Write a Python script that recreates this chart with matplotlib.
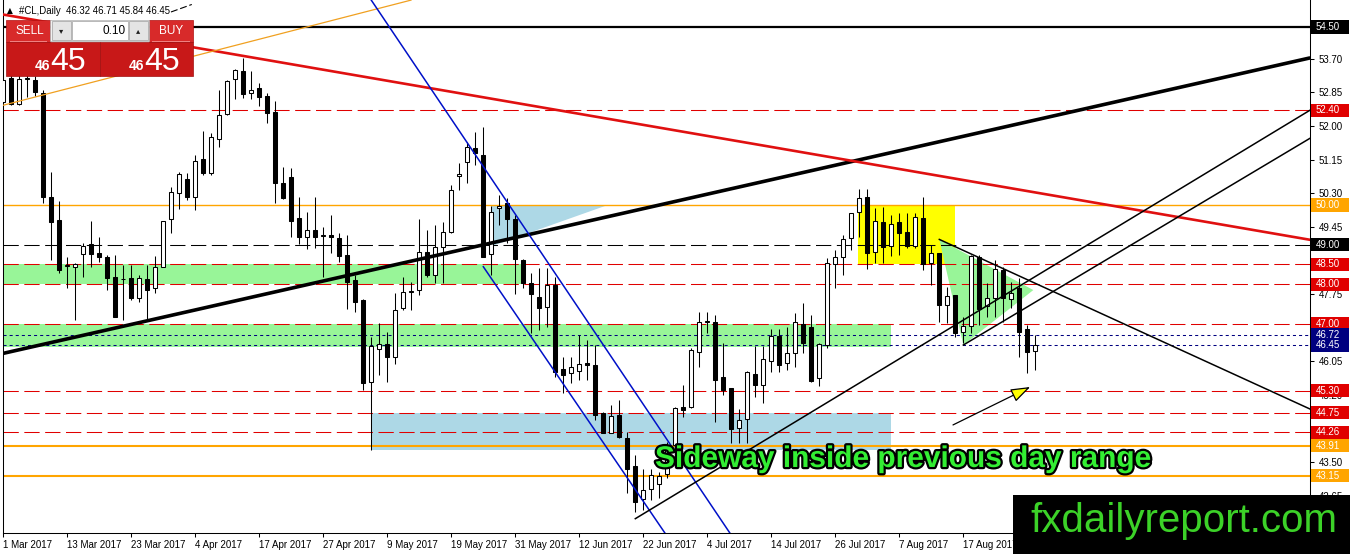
import matplotlib
matplotlib.use("Agg")
import matplotlib.pyplot as plt
from matplotlib.patches import Rectangle, Polygon, FancyArrowPatch, ArrowStyle
from matplotlib.transforms import blended_transform_factory
import matplotlib.patheffects as pe

plt.rcParams['font.family'] = ['Liberation Sans', 'DejaVu Sans']
plt.rcParams['lines.scale_dashes'] = False

# ---------------- data (daily bars, index 0 = 1 Mar 2017) ----------------
opens = [52.60, 53.21, 52.55, 53.18, 53.16, 52.83, 50.21, 49.62, 48.46, 48.44,
         48.75, 49.01, 48.79, 48.69, 48.17, 48.12, 48.15, 47.66, 48.12, 47.89,
         48.44, 49.64, 50.30, 50.67, 50.21, 51.16, 50.80, 51.66, 52.30, 53.19,
         53.40, 52.82, 52.95, 52.76, 52.36, 50.56, 50.72, 49.68, 49.20, 49.37,
         49.21, 49.24, 49.16, 48.74, 48.10, 47.60, 45.53, 46.35, 46.48, 46.17,
         47.39, 47.80, 47.85, 48.82, 48.23, 48.95, 49.33, 50.73, 51.10, 51.43,
         51.26, 48.76, 49.92, 50.04, 49.64, 48.61, 48.04, 47.68, 47.43, 47.98,
         45.85, 45.75, 45.81, 46.01, 45.95, 44.73, 44.24, 44.69, 44.10, 43.40,
         42.56, 42.81, 42.95, 43.20, 43.93, 44.90, 44.89, 46.29, 47.04, 47.05,
         45.65, 45.37, 44.36, 44.58, 45.73, 45.45, 46.06, 46.70, 46.00, 46.25,
         46.99, 46.92, 45.62, 46.46, 48.51, 48.69, 49.16, 49.83, 50.20, 48.82,
         49.58, 48.96, 49.58, 49.33, 48.96, 49.66, 48.53, 48.78, 47.47, 47.72,
         46.80, 46.94, 48.68, 47.45, 47.64, 48.36, 47.62, 47.89, 46.86, 46.32]
highs = [53.30, 53.40, 53.40, 53.30, 53.25, 52.91, 50.83, 50.10, 48.69, 48.53,
         49.05, 49.60, 49.20, 48.74, 48.74, 48.48, 48.48, 48.23, 48.48, 48.71,
         49.60, 50.46, 50.84, 50.80, 51.26, 51.87, 51.83, 52.92, 53.16, 53.44,
         53.71, 53.40, 53.08, 52.82, 52.63, 50.97, 50.93, 50.21, 49.83, 50.21,
         49.44, 49.75, 49.30, 49.24, 48.23, 47.62, 46.66, 47.01, 46.80, 47.77,
         48.19, 48.06, 49.64, 49.37, 49.49, 49.58, 50.51, 51.05, 51.60, 51.85,
         51.98, 49.97, 50.25, 50.17, 49.75, 48.63, 48.27, 48.40, 48.40, 48.19,
         46.17, 46.17, 46.71, 46.59, 46.46, 44.77, 44.94, 45.07, 44.27, 43.68,
         43.32, 43.32, 43.26, 44.00, 44.89, 45.45, 46.38, 47.30, 47.30, 47.22,
         46.50, 45.38, 44.84, 45.80, 46.43, 46.43, 46.86, 46.86, 46.92, 47.26,
         47.53, 47.22, 46.52, 48.65, 48.86, 49.24, 49.81, 50.40, 50.40, 49.92,
         49.94, 49.75, 49.79, 49.79, 49.79, 50.19, 48.99, 48.79, 47.93, 47.72,
         47.18, 48.74, 48.74, 48.02, 48.61, 48.43, 48.06, 48.15, 46.97, 46.71]
lows = [52.50, 52.53, 52.54, 52.73, 52.76, 50.04, 48.61, 48.29, 47.91, 47.09,
        48.17, 48.44, 48.57, 47.85, 47.16, 47.09, 47.60, 47.56, 47.09, 47.78,
        48.43, 49.28, 49.89, 50.13, 49.87, 50.76, 50.76, 51.47, 52.28, 52.69,
        52.70, 52.68, 52.51, 52.08, 50.06, 50.15, 49.20, 49.01, 48.88, 48.91,
        48.19, 48.78, 48.57, 47.36, 47.30, 45.32, 43.81, 45.70, 45.53, 45.99,
        47.35, 47.35, 47.73, 48.19, 48.02, 48.02, 49.28, 50.38, 50.55, 51.01,
        48.68, 48.23, 49.50, 49.03, 47.74, 47.89, 46.76, 46.84, 46.92, 45.66,
        45.24, 45.49, 45.58, 45.58, 44.57, 44.24, 44.23, 44.12, 42.71, 42.25,
        42.29, 42.54, 42.59, 43.10, 43.83, 44.65, 44.87, 45.91, 46.76, 44.52,
        45.20, 43.98, 43.98, 43.98, 45.15, 44.99, 45.79, 45.79, 45.83, 45.91,
        46.27, 45.53, 45.42, 46.38, 47.89, 48.23, 48.86, 49.20, 48.37, 48.54,
        48.54, 48.71, 48.74, 48.91, 48.91, 48.36, 47.98, 47.05, 47.01, 46.67,
        46.50, 46.76, 46.97, 47.18, 47.18, 47.05, 47.39, 46.15, 45.76, 45.84]
closes = [53.15, 52.55, 53.19, 53.20, 52.86, 50.20, 49.58, 48.36, 48.48, 48.51,
          48.96, 48.75, 48.69, 48.16, 47.18, 48.14, 47.66, 48.15, 47.85, 48.44,
          49.59, 50.32, 50.78, 50.21, 51.11, 50.80, 51.71, 52.28, 53.13, 53.41,
          52.80, 52.91, 52.72, 52.33, 50.56, 50.17, 49.60, 49.20, 49.37, 49.20,
          49.23, 49.18, 48.71, 48.06, 47.56, 45.49, 46.44, 46.48, 46.17, 47.35,
          47.81, 47.82, 48.82, 48.23, 48.95, 49.33, 50.38, 50.78, 51.47, 51.31,
          48.69, 49.83, 49.97, 49.64, 48.63, 48.02, 47.75, 47.39, 47.98, 45.79,
          45.70, 45.91, 45.97, 45.95, 44.69, 44.24, 44.67, 44.13, 43.32, 42.50,
          42.80, 43.17, 43.15, 43.90, 44.86, 44.83, 46.33, 47.05, 47.06, 45.58,
          45.33, 44.33, 44.57, 45.79, 45.45, 46.10, 46.70, 45.95, 46.27, 47.05,
          46.50, 45.56, 46.49, 48.54, 48.69, 49.13, 49.79, 50.17, 48.78, 49.60,
          48.95, 49.52, 49.30, 48.96, 49.69, 48.51, 48.78, 47.47, 47.70, 46.77,
          46.94, 48.71, 47.36, 47.64, 48.37, 47.64, 47.78, 46.80, 46.29, 46.45]

date_ticks = [0, 8, 16, 24, 32, 40, 48, 56, 64, 72, 80, 88, 96, 104, 112, 120, 128]
date_labels = ["1 Mar 2017", "13 Mar 2017", "23 Mar 2017", "4 Apr 2017", "17 Apr 2017",
               "27 Apr 2017", "9 May 2017", "19 May 2017", "31 May 2017", "12 Jun 2017",
               "22 Jun 2017", "4 Jul 2017", "14 Jul 2017", "26 Jul 2017", "7 Aug 2017",
               "17 Aug 2017", "29 Aug 2017"]
price_ticks = [42.65, 43.50, 44.35, 45.20, 46.05, 46.90, 47.75, 48.60, 49.45,
               50.30, 51.15, 52.00, 52.85, 53.70, 54.55]
# tick labels that sit fully under a level box in the original
price_tick_labels = ["42.65", "43.50", "", "45.20", "46.05", "", "47.75", "", "49.45",
                     "50.30", "51.15", "52.00", "52.85", "53.70", ""]

level_prices = [54.50, 52.40, 50.00, 49.00, 48.50, 48.00, 47.00, 46.72, 46.45,
                45.30, 44.75, 44.26, 43.91, 43.15]
level_colors = ['black', '#e00000', '#ffa500', 'black', '#e00000', '#e00000', '#e00000',
                '#000080', '#000080', '#e00000', '#e00000', '#e00000', '#ffa500', '#ffa500']
level_styles = ['solid', 'dash', 'solid', 'dash', 'dash', 'dash', 'dash',
                'dot', 'dot', 'dash', 'dash', 'dash', 'solid', 'solid']
level_widths = [1.6, 0.75, 1.0, 0.75, 0.75, 0.75, 0.75, 0.75, 0.75,
                0.75, 0.75, 0.75, 1.5, 1.5]

# zones (bar index range, price range)
green_zone1 = ([0, 65.3], [48.00, 48.50])
green_zone2 = ([0, 110.96], [46.40, 47.00])
blue_zone = ([46.09, 110.96], [43.80, 44.73])
yellow_zone = ([106.9, 119.0], [48.50, 49.99])
blue_triangle = ([61.09, 75.46, 61.09], [49.99, 49.99, 48.96])
green_triangle = ([117.04, 120.04, 128.79], [49.13, 46.46, 47.85])

# trend lines (bar index, price) anchors
thick_trend = ([-0.4, 163.4], [46.23, 53.72])
red_trend = ([-0.4, 163.4], [54.83, 49.12])
orange_trend = ([-0.4, 51.0], [52.50, 55.18])
blue_upper = ([45.6, 91.45], [55.31, 41.53])
blue_lower = ([60.04, 82.9], [48.44, 41.66])
black_rise1 = ([79.04, 163.4], [42.07, 52.40])
black_rise2 = ([120.04, 163.4], [46.46, 51.69])
black_fall = ([117.04, 163.4], [49.13, 44.84])
short_dash = ([21.0, 23.6], [54.88, 55.07])
arrow_from = (118.75, 44.44)
arrow_to = (128.4, 45.40)

# ---------------- figure ----------------
W, H = 1350, 554
fig = plt.figure(figsize=(W / 100, H / 100), dpi=100)
fig.patch.set_facecolor('white')
L, R, T, B = 3, 1310, 0, 533
ax = fig.add_axes([L / W, 1 - B / H, (R - L) / W, (B - T) / H])
ax.set_xlim(0, 163.375)
ax.set_ylim(41.708, 55.183)
ax.set_facecolor('white')


def fx(px):
    return px / W


def fy(py):
    return 1 - py / H


def frect(x0, y0, x1, y1, **kw):
    r = Rectangle((fx(x0), fy(y1)), (x1 - x0) / W, (y1 - y0) / H,
                  transform=fig.transFigure, **kw)
    fig.add_artist(r)
    return r


# zones
for (xs, ys), col in [(green_zone1, '#98f598'), (green_zone2, '#98f598'),
                      (blue_zone, '#add8e6'), (yellow_zone, '#ffff00')]:
    ax.add_patch(Rectangle((xs[0], ys[0]), xs[1] - xs[0], ys[1] - ys[0],
                           facecolor=col, edgecolor='none', zorder=1))
ax.add_patch(Polygon(list(zip(*blue_triangle)), closed=True, facecolor='#add8e6',
                     edgecolor='none', zorder=1))
ax.add_patch(Polygon(list(zip(*green_triangle)), closed=True, facecolor='#98f598',
                     edgecolor='none', zorder=1))

# horizontal levels
for p, c, s, w in zip(level_prices, level_colors, level_styles, level_widths):
    if s == 'dash':
        ls = (0, (11, 4))
    elif s == 'dot':
        ls = (0, (2.2, 2.2))
    else:
        ls = '-'
    ax.axhline(p, color=c, linestyle=ls, lw=w, zorder=2)

# candles
n = len(opens)
idx = list(range(n))
ax.vlines(idx, lows, highs, color='black', lw=0.75, zorder=3)
bottoms = [min(o, c) for o, c in zip(opens, closes)]
heights = [max(abs(c - o), 0.012) for o, c in zip(opens, closes)]
faces = ['white' if c >= o else 'black' for o, c in zip(opens, closes)]
ax.bar(idx, heights, bottom=bottoms, width=0.56, color=faces, edgecolor='black',
       linewidth=0.75, zorder=4)

# trend lines
ax.plot(*thick_trend, color='black', lw=2.6, zorder=5, solid_capstyle='butt')
ax.plot(*red_trend, color='#e01010', lw=1.9, zorder=5)
ax.plot(*orange_trend, color='#f0a020', lw=0.9, zorder=5)
ax.plot(*blue_upper, color='#0010c8', lw=1.1, zorder=5)
ax.plot(*blue_lower, color='#0010c8', lw=1.1, zorder=5)
ax.plot(*black_rise1, color='black', lw=1.1, zorder=5)
ax.plot(*black_rise2, color='black', lw=1.1, zorder=5)
ax.plot(*black_fall, color='black', lw=1.1, zorder=5)
ax.plot(*short_dash, color='black', lw=0.8, linestyle=(0, (5, 2)), zorder=5)
ax.add_patch(FancyArrowPatch(arrow_from, arrow_to,
                             arrowstyle=ArrowStyle('-|>', head_length=1.2, head_width=0.42),
                             mutation_scale=10, facecolor='#ffff00', edgecolor='black',
                             lw=0.9, shrinkA=0, shrinkB=0, zorder=6))

# annotation text
txt = ax.text(81.5, 43.377, "Sideway inside previous day range", fontsize=21.5,
              fontweight='bold', color='#33ee33', ha='left', va='baseline', zorder=7)
txt.set_path_effects([pe.withStroke(linewidth=3.2, foreground='black')])

# axes styling
ax.spines['top'].set_visible(False)
for side in ['left', 'right', 'bottom']:
    ax.spines[side].set_linewidth(0.75)
ax.yaxis.tick_right()
ax.set_yticks(price_ticks)
ax.set_yticklabels(price_tick_labels)
ax.set_xticks(date_ticks)
ax.set_xticklabels(date_labels)
for lbl in ax.get_xticklabels():
    lbl.set_ha('left')
ax.tick_params(axis='y', direction='out', length=3, width=0.75, pad=3, labelsize=7)
ax.tick_params(axis='x', direction='out', length=3, width=0.75, pad=2, labelsize=7)

# level boxes on the price axis
bt = blended_transform_factory(fig.transFigure, ax.transData)
box_h = 0.33
for p, c in zip(level_prices, level_colors):
    fig.add_artist(Rectangle((fx(1311), p - box_h / 2), fx(1349) - fx(1311), box_h,
                             transform=bt, facecolor=c, edgecolor='none', zorder=10,
                             clip_on=False))
    fig.text(fx(1315.5), p, f"{p:.2f}", transform=bt, color='white', fontsize=7,
             va='center', ha='left', zorder=11)

# ---------------- trading panel (top-left) ----------------
fig.text(fx(7), fy(10.5), "\u25B2", fontsize=5.5, family=['DejaVu Sans'],
         va='center', ha='left', color='black')
fig.text(fx(19), fy(10.5), "#CL,Daily  46.32 46.71 45.84 46.45", fontsize=6.9,
         va='center', ha='left', color='black')
red_top = '#d82a2a'
red_low = '#c81818'
frect(6, 20, 50, 42, facecolor=red_top, edgecolor='#b01010', lw=0.5, zorder=20)
frect(149, 20, 193, 42, facecolor=red_top, edgecolor='#b01010', lw=0.5, zorder=20)
frect(50, 20, 149, 41, facecolor='#f0f0f0', edgecolor='#b0b0b0', lw=0.5, zorder=20)
frect(52, 21, 71, 40, facecolor='#e4e4e4', edgecolor='#a0a0a0', lw=0.5, zorder=21)
frect(72, 21, 128, 40, facecolor='white', edgecolor='#a0a0a0', lw=0.5, zorder=21)
frect(129, 21, 148, 40, facecolor='#e4e4e4', edgecolor='#a0a0a0', lw=0.5, zorder=21)
frect(6, 42, 99.5, 76, facecolor=red_low, edgecolor='#a01010', lw=0.5, zorder=20)
frect(100.5, 42, 193, 76, facecolor=red_low, edgecolor='#a01010', lw=0.5, zorder=20)
frect(10, 41.3, 47, 42.3, facecolor='#f08080', edgecolor='none', zorder=21)
frect(152, 41.3, 190, 42.3, facecolor='#f08080', edgecolor='none', zorder=21)
fig.text(fx(15), fy(31), "SELL", color='white', fontsize=8.5, va='center', ha='left', zorder=22)
fig.text(fx(159), fy(31), "BUY", color='white', fontsize=8.5, va='center', ha='left', zorder=22)
fig.text(fx(61.5), fy(30.5), "\u25BE", family=['DejaVu Sans'], fontsize=6, color='#202020',
         va='center', ha='center', zorder=22)
fig.text(fx(138.5), fy(30.5), "\u25B4", family=['DejaVu Sans'], fontsize=6, color='#202020',
         va='center', ha='center', zorder=22)
fig.text(fx(126), fy(31), "0.10", color='black', fontsize=8.5, va='center', ha='right', zorder=22)
for x_small, x_big in [(35, 50), (129, 144)]:
    fig.text(fx(x_small), fy(70.5), "46", color='white', fontsize=10, fontweight='bold',
             va='baseline', ha='left', zorder=22)
    fig.text(fx(x_big), fy(70.5), "45", color='white', fontsize=23,
             va='baseline', ha='left', zorder=22)

# ---------------- watermark box ----------------
frect(1013, 495, 1350, 554, facecolor='black', edgecolor='none', zorder=30)
fig.text(fx(1030), fy(532.5), "fxdailyreport.com", color='#3cd228', fontsize=29,
         va='baseline', ha='left', zorder=31)

fig.savefig("out.png", dpi=100)
